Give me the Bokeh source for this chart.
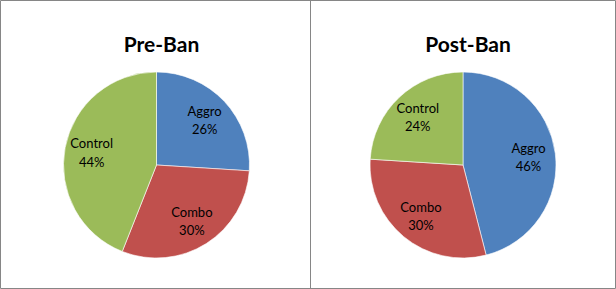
import numpy as np
from bokeh.plotting import figure
from bokeh.models import ColumnDataSource, Span
from bokeh.core.properties import value
from bokeh.embed import file_html
from bokeh.resources import INLINE

# ---- data ----
categories = ["Aggro", "Combo", "Control"]
pre_ban = [26, 30, 44]
post_ban = [46, 30, 24]
titles = ["Pre-Ban", "Post-Ban"]
colors = ["#4F81BD", "#C0504D", "#9BBB59"]

W, H = 616, 289
p = figure(width=W, height=H, x_range=(0, W), y_range=(0, H),
           output_backend="svg", toolbar_location=None, min_border=0)
p.axis.visible = False
p.grid.visible = False
p.background_fill_color = "white"
p.border_fill_color = "white"
p.outline_line_color = "#868686"
p.outline_line_width = 1

# divider between the two panels
p.add_layout(Span(location=310, dimension="height", line_color="#868686", line_width=1))

centers_x = [156, 462.5]
center_y = H - 164.5
R = 93

for series, cx, title in zip([pre_ban, post_ban], centers_x, titles):
    vals = np.array(series, dtype=float)
    frac = vals / vals.sum()
    cum_end = np.cumsum(frac)
    cum_start = cum_end - frac
    start = np.pi / 2 - cum_start * 2 * np.pi
    end = np.pi / 2 - cum_end * 2 * np.pi
    mid = np.pi / 2 - (cum_start + frac / 2) * 2 * np.pi
    src = ColumnDataSource(dict(
        x=[cx] * len(vals), y=[center_y] * len(vals),
        start=start, end=end, color=colors,
        lx=cx + 0.71 * R * np.cos(mid), ly=center_y + 0.71 * R * np.sin(mid),
        label=[f"{c}\n{int(v)}%" for c, v in zip(categories, series)],
    ))
    p.wedge(x="x", y="y", radius=R, start_angle="start", end_angle="end",
            direction="clock", fill_color="color", line_color="white",
            line_width=0.6, source=src)
    p.text(x="lx", y="ly", text="label", source=src, text_align="center",
           text_baseline="middle", text_font=value("Lato"), text_font_size="13px",
           text_color="black", text_line_height=1.15)
    p.text(x=[cx + 5], y=[H - 43], text=[title], text_align="center",
           text_baseline="middle", text_font=value("Lato"), text_font_size="21px",
           text_font_style="bold", text_color="black")

open("out.html", "w").write(file_html(p, INLINE))
